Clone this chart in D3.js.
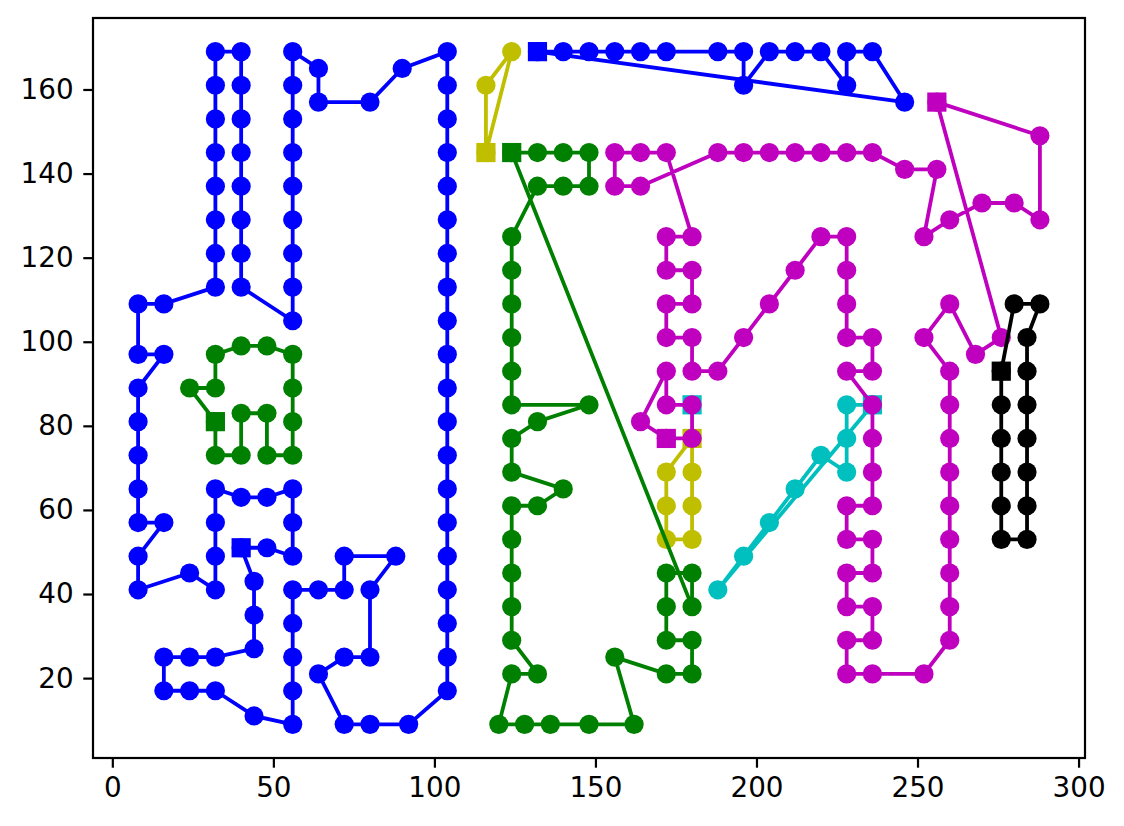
<!DOCTYPE html>
<html><head><meta charset="utf-8">
<script src="https://cdn.jsdelivr.net/npm/d3@7"></script>
<style>body{margin:0;background:#fff}svg{display:block}</style>
</head><body>
<svg id="chart" width="1124" height="826"></svg>
<script>
// ---- data: each route starts (square) and ends at its depot ----
const blueRoute1 = [[40,51],[44,43],[44,35],[44,27],[32,25],[24,25],[16,25],[16,17],[24,17],[32,17],[44,11],[56,9],[56,17],[56,25],[56,33],[56,41],[64,41],[72,41],[72,49],[88,49],[80,41],[80,25],[72,25],[64,21],[72,9],[80,9],[92,9],[104,17],[104,25],[104,33],[104,41],[104,49],[104,57],[104,65],[104,73],[104,81],[104,89],[104,97],[104,105],[104,113],[104,121],[104,129],[104,137],[104,145],[104,153],[104,161],[104,169],[90,165],[80,157],[64,157],[64,165],[56,169],[56,161],[56,153],[56,145],[56,137],[56,129],[56,121],[56,113],[56,105],[40,113],[40,121],[40,129],[40,137],[40,145],[40,153],[40,161],[40,169],[32,169],[32,161],[32,153],[32,145],[32,137],[32,129],[32,121],[32,113],[16,109],[8,109],[8,97],[16,97],[8,89],[8,81],[8,73],[8,65],[8,57],[16,57],[8,49],[8,41],[24,45],[32,41],[32,49],[32,57],[32,65],[40,63],[48,63],[56,65],[56,57],[56,49],[48,51],[40,51]];
const blueRoute2 = [[132,169],[140,169],[148,169],[156,169],[164,169],[172,169],[188,169],[196,169],[196,161],[204,169],[212,169],[220,169],[228,161],[228,169],[236,169],[246,157],[132,169]];
const greenRoute1 = [[32,81],[32,73],[40,73],[40,83],[48,83],[48,73],[56,73],[56,81],[56,89],[56,97],[48,99],[40,99],[32,97],[32,89],[24,89],[32,81]];
const greenRoute2 = [[124,145],[132,145],[140,145],[148,145],[148,137],[140,137],[132,137],[124,125],[124,117],[124,109],[124,101],[124,93],[124,85],[148,85],[132,81],[124,77],[124,69],[140,65],[132,61],[124,61],[124,53],[124,45],[124,37],[124,29],[132,21],[124,21],[120,9],[128,9],[136,9],[148,9],[162,9],[156,25],[172,21],[180,21],[180,29],[172,29],[172,37],[172,45],[180,45],[180,37],[124,145]];
const yellowRoute1 = [[116,145],[116,161],[124,169],[116,145]];
const yellowRoute2 = [[180,77],[172,69],[172,61],[172,53],[180,53],[180,61],[180,69],[180,77]];
const cyanRoute1 = [[180,85]];
const cyanRoute2 = [[236,85],[228,85],[228,77],[228,69],[220,73],[212,65],[204,57],[196,49],[188,41],[236,85]];
const magentaRoute1 = [[172,77],[164,81],[172,93],[172,85],[180,85],[180,77],[172,77]];
const magentaRoute2 = [[256,157],[288,149],[288,129],[280,133],[270,133],[260,129],[252,125],[256,141],[246,141],[236,145],[228,145],[220,145],[212,145],[204,145],[196,145],[188,145],[164,137],[156,137],[156,145],[164,145],[172,145],[180,125],[172,125],[172,117],[180,117],[180,109],[172,109],[172,101],[180,101],[180,93],[188,93],[196,101],[204,109],[212,117],[220,125],[228,125],[228,117],[228,109],[228,101],[236,101],[236,93],[228,93],[236,85],[236,77],[236,69],[236,61],[228,61],[228,53],[236,53],[236,45],[228,45],[228,37],[236,37],[236,29],[228,29],[228,21],[236,21],[252,21],[260,29],[260,37],[260,45],[260,53],[260,61],[260,69],[260,77],[260,85],[260,93],[252,101],[260,109],[268,97],[276,101],[256,157]];
const blackRoute1 = [[276,93],[280,109],[288,109],[284,101],[284,93],[284,85],[284,77],[284,69],[284,61],[284,53],[276,53],[276,61],[276,69],[276,77],[276,85],[276,93]];
const xTicks = [0,50,100,150,200,250,300];
const yTicks = [20,40,60,80,100,120,140,160];

// ---- styling / layout (drawing order = stacking order) ----
const routes = [
  {pts: blueRoute1, color: '#0000ff'},
  {pts: greenRoute1, color: '#008000'},
  {pts: yellowRoute2, color: '#bfbf00'},
  {pts: cyanRoute1, color: '#00bfbf'},
  {pts: magentaRoute1, color: '#bf00bf'},
  {pts: blueRoute2, color: '#0000ff'},
  {pts: yellowRoute1, color: '#bfbf00'},
  {pts: greenRoute2, color: '#008000'},
  {pts: cyanRoute2, color: '#00bfbf'},
  {pts: magentaRoute2, color: '#bf00bf'},
  {pts: blackRoute1, color: '#000000'}
];
const M = {left: 93, top: 18, right: 1085, bottom: 758};
const allPts = routes.flatMap(r => r.pts);
const xe = d3.extent(allPts, d => d[0]), ye = d3.extent(allPts, d => d[1]);
const xp = (xe[1]-xe[0])*0.05, yp = (ye[1]-ye[0])*0.05;
const x = d3.scaleLinear().domain([xe[0]-xp, xe[1]+xp]).range([M.left, M.right]);
const y = d3.scaleLinear().domain([ye[0]-yp, ye[1]+yp]).range([M.bottom, M.top]);

const svg = d3.select('#chart');
svg.append('rect').attr('width',1124).attr('height',826).attr('fill','#fff');
const plot = svg.append('g');
const line = d3.line().x(d => x(d[0])).y(d => y(d[1]));
const R = 9.6, S = 19.2;
routes.forEach(r => {
  const g = plot.append('g');
  if (r.pts.length > 1) {
    g.append('path').attr('d', line(r.pts)).attr('fill','none')
      .attr('stroke', r.color).attr('stroke-width', 3.8).attr('stroke-linejoin','round');
    g.selectAll('circle').data(r.pts.slice(1)).join('circle')
      .attr('cx', d => x(d[0])).attr('cy', d => y(d[1])).attr('r', R).attr('fill', r.color);
  }
  const d0 = r.pts[0];
  g.append('rect').attr('x', x(d0[0]) - S/2).attr('y', y(d0[1]) - S/2)
    .attr('width', S).attr('height', S).attr('fill', r.color);
});

// axes
const xAxis = d3.axisBottom(x).tickValues(xTicks).tickSize(9.7).tickPadding(9.7).tickFormat(d3.format('d'));
const yAxis = d3.axisLeft(y).tickValues(yTicks).tickSize(9.7).tickPadding(9.7).tickFormat(d3.format('d'));
const gx = svg.append('g').attr('transform', `translate(0,${M.bottom})`).call(xAxis);
const gy = svg.append('g').attr('transform', `translate(${M.left},0)`).call(yAxis);
[gx, gy].forEach(g => {
  g.select('.domain').remove();
  g.selectAll('line').attr('stroke','#000').attr('stroke-width',2.2);
  g.selectAll('text').attr('fill','#000').style('font-family','"DejaVu Sans", sans-serif').style('font-size','27.8px');
});
svg.append('rect').attr('x',M.left).attr('y',M.top).attr('width',M.right-M.left).attr('height',M.bottom-M.top)
  .attr('fill','none').attr('stroke','#000').attr('stroke-width',2.2);
</script>
</body></html>
